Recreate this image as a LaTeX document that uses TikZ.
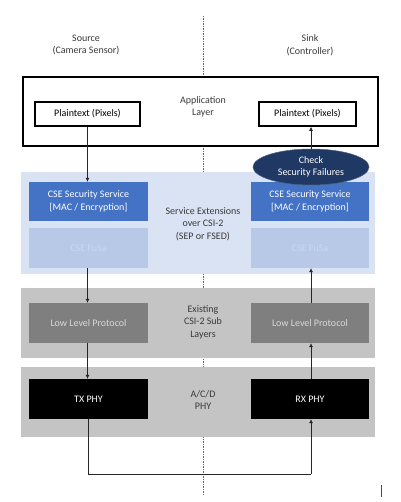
\documentclass[tikz,border=0pt]{standalone}
\usepackage{fontspec}
\setmainfont{Carlito}
\usetikzlibrary{arrows.meta,shapes.geometric}
\definecolor{layerblue}{HTML}{DAE3F3}
\definecolor{cseblue}{HTML}{4472C4}
\definecolor{fusafill}{HTML}{B8C9E8}
\definecolor{fusatext}{HTML}{CAD7EF}
\definecolor{layergray}{HTML}{C4C4C4}
\definecolor{llpgray}{HTML}{7F7F7F}
\definecolor{llptext}{HTML}{D9D9D9}
\definecolor{navy}{HTML}{1F3864}
\definecolor{txt}{HTML}{3A3A3A}
\tikzset{
  every node/.style={font=\fontsize{10}{12.5}\selectfont, text=txt, align=center, inner sep=0pt},
  layer/.style={draw=none, minimum width=354pt},
  block/.style={draw=none, minimum width=119pt, minimum height=40pt},
  cse/.style={block, fill=cseblue, text=white, minimum height=39pt},
  fusa/.style={block, fill=fusafill, text=fusatext},
  llp/.style={block, fill=llpgray, text=llptext},
  phy/.style={block, fill=black, text=white},
  plain/.style={draw=black, line width=1.6pt, minimum height=24pt, text=black},
  flow/.style={draw=black!85, line width=0.6pt, -{Latex[length=4pt,width=4pt]}},
  wire/.style={draw=black!85, line width=0.6pt},
  divider/.style={draw=black!60, line width=0.7pt, dash pattern=on 1.5pt off 1pt},
}
\begin{document}
\begin{tikzpicture}[x=1pt,y=-1pt]
\useasboundingbox (0,0) rectangle (400,502);
\fill[white] (0,0) rectangle (400,502);
% divider
\coordinate (dtop) at (203,16);
\coordinate (dbot) at (203,495);
\draw[divider] (dtop) -- (dbot);
% headings
\node (src) at (86,45) {\fontsize{10}{14}\selectfont Source\\(Camera Sensor)};
\node (snk) at (310,45) {\fontsize{10}{14}\selectfont Sink\\(Controller)};
% application layer
\node[draw=black, line width=1.6pt, fill=white, minimum width=355pt, minimum height=69pt] (app) at (200.5,111.5) {};
\node (applbl) at (203,107) {Application\\Layer};
\node[plain, minimum width=105pt] (pl) at (87.5,114) {Plaintext (Pixels)};
\node[plain, minimum width=97pt] (pr) at (307.5,114) {Plaintext (Pixels)};
% service extension layer
\node[layer, fill=layerblue, minimum height=102pt] (sel) at (198,223) {};
\node (sellbl) at (203,224) {Service Extensions\\over CSI-2\\(SEP or FSED)};
\node[cse] (csel) at (88.5,201.5) {CSE Security Service\\{}[MAC / Encryption]};
\node[cse, minimum width=118pt] (cser) at (310,201.5) {CSE Security Service\\{}[MAC / Encryption]};
\node[fusa] (fusal) at (88.5,248) {CSE FuSa};
\node[fusa, minimum width=118pt] (fusar) at (310,248) {CSE FuSa};
% existing sub layers
\node[layer, fill=layergray, minimum height=70pt] (sub) at (198,323) {};
\node (sublbl) at (203,322) {Existing\\CSI-2 Sub\\Layers};
\node[llp] (llpl) at (88.5,323) {Low Level Protocol};
\node[llp, minimum width=118pt] (llpr) at (310,323) {Low Level Protocol};
% phy layer
\node[layer, fill=layergray, minimum height=70pt] (phyl) at (198,402) {};
\node (phylbl) at (203,400) {A/C/D\\PHY};
\node[phy] (tx) at (88.5,399) {TX PHY};
\node[phy, minimum width=118pt] (rx) at (310,399) {RX PHY};
% check ellipse
\node[ellipse, fill=navy, draw=navy!80!white, line width=0.5pt, minimum width=116pt, minimum height=36pt, text=white] (chk) at (311,167) {Check\\Security Failures};
% flows: source side
\draw[flow] (pl.south) -- (pl.south |- csel.north);
\draw[flow] (fusal.south -| pl.south) -- (pl.south |- llpl.north);
\draw[flow] (llpl.south -| pl.south) -- (pl.south |- tx.north);
% loop
\coordinate (lpl) at (88,474);
\coordinate (lpr) at (311,474);
\draw[wire] (tx.south -| lpl) -- (lpl) -- (lpr);
\draw[flow] (lpr) -- (lpr |- rx.south);
% sink side
\draw[flow] (rx.north -| lpr) -- (lpr |- llpr.south);
\draw[flow] (llpr.north -| lpr) -- (lpr |- fusar.south);
\draw[flow] (chk.north) -- (chk.north |- pr.south);
% stray mark
\coordinate (ma) at (381,485);
\coordinate (mb) at (381,497);
\draw[black!70, line width=0.6pt] (ma) -- (mb);
\end{tikzpicture}
\end{document}
